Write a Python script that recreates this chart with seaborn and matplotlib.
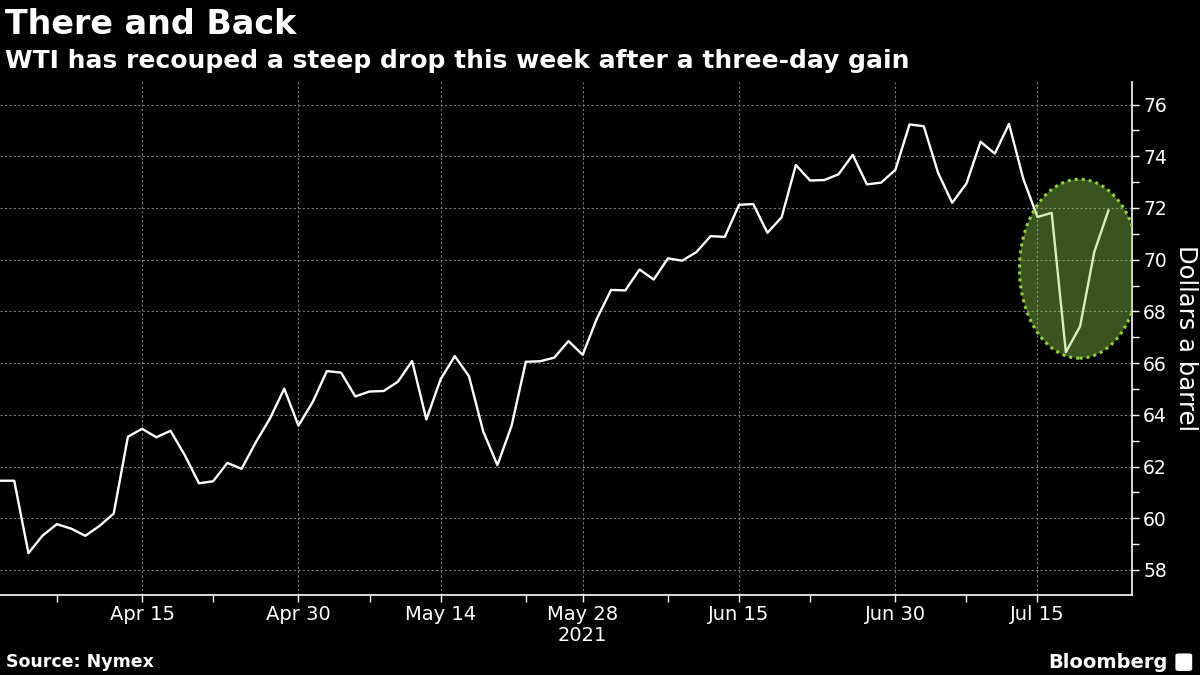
import pandas as pd
import numpy as np
import matplotlib
matplotlib.use("Agg")
import matplotlib.pyplot as plt
from matplotlib.patches import Ellipse, FancyBboxPatch
import seaborn as sns

# WTI front-month settles, trading days only (Good Friday, Memorial Day, Jul 5 closed)
holidays = ["2021-04-02", "2021-05-31", "2021-07-05"]
dates = pd.bdate_range("2021-03-31", "2021-07-22", freq="C", holidays=holidays)

prices = [
    61.45,
    61.45, 58.65, 59.33, 59.77, 59.60, 59.32, 59.70, 60.18, 63.15, 63.46,
    63.13, 63.38, 62.44, 61.35, 61.43, 62.14, 61.91, 62.94, 63.86, 65.01, 63.58,
    64.49, 65.69, 65.63, 64.71, 64.90, 64.92, 65.28, 66.08, 63.82, 65.37,
    66.27, 65.49, 63.36, 62.05, 63.58, 66.05, 66.07, 66.21, 66.85, 66.32,
    67.72, 68.83, 68.81, 69.62, 69.23, 70.05, 69.96, 70.29, 70.91, 70.88, 72.12,
    72.15, 71.04, 71.64, 73.66, 73.06, 73.08, 73.30, 74.05, 72.91, 72.98, 73.47,
    75.23, 75.16, 73.37, 72.20, 72.94, 74.56, 74.10, 75.25, 73.13, 71.65,
    71.81, 66.42, 67.42, 70.30, 71.91,
]

major_dates = ["2021-04-15", "2021-04-30", "2021-05-14", "2021-05-28",
               "2021-06-15", "2021-06-30", "2021-07-15"]
major_labels = ["Apr 15", "Apr 30", "May 14", "May 28", "Jun 15", "Jun 30", "Jul 15"]
minor_dates = ["2021-04-07", "2021-04-22", "2021-05-07", "2021-05-24",
               "2021-06-08", "2021-06-22", "2021-07-08"]
y_ticks = list(range(58, 77, 2))

df = pd.DataFrame({"date": dates, "price": prices})
df["pos"] = np.arange(len(df))
pos_of = {d: i for i, d in enumerate(df["date"].dt.strftime("%Y-%m-%d"))}

sns.set_theme(style="dark", rc={
    "figure.facecolor": "black",
    "axes.facecolor": "black",
    "axes.edgecolor": "white",
    "text.color": "white",
    "xtick.color": "white",
    "ytick.color": "white",
    "axes.labelcolor": "white",
})
plt.rcParams["font.family"] = ["DejaVu Sans"]

fig = plt.figure(figsize=(12, 6.75), dpi=100)
ax = fig.add_axes([0.0, 0.1185, 0.9433, 0.76])

sns.lineplot(data=df, x="pos", y="price", color="white", linewidth=1.7, ax=ax, zorder=3)

# highlight of the three-day rebound
ell = Ellipse((75.96, 69.65), width=8.45, height=6.92,
              facecolor=(154 / 255, 218 / 255, 82 / 255, 0.39),
              edgecolor="#8fd13f", linestyle=(0, (1, 1.3)), linewidth=2.2, zorder=4)
ax.add_patch(ell)

ax.set_xlim(0, 79.65)
ax.set_ylim(57.03, 76.87)

ax.set_xticks([pos_of[d] for d in major_dates])
ax.set_xticklabels(major_labels, fontsize=14)
ax.set_xticks([pos_of[d] for d in minor_dates], minor=True)
ax.set_xlabel("2021", fontsize=14)
ax.xaxis.set_label_coords(pos_of["2021-05-28"] / 79.65, -0.06)

ax.yaxis.tick_right()
ax.yaxis.set_label_position("right")
ax.set_yticks(y_ticks)
ax.set_yticklabels([str(v) for v in y_ticks], fontsize=13.5)
ax.set_yticks(list(range(59, 77, 2)), minor=True)
ax.set_ylabel("Dollars a barrel", fontsize=17.5, rotation=-90, labelpad=22)

ax.tick_params(axis="both", which="both", direction="out", length=5, width=1,
               bottom=True, right=True, left=False, top=False)
ax.tick_params(axis="x", which="major", pad=2)
ax.tick_params(axis="y", which="major", pad=3)

ax.grid(True, which="major", color="#777777", linestyle=(0, (2, 2)), linewidth=0.8)
for side in ["left", "top"]:
    ax.spines[side].set_visible(False)
for side in ["bottom", "right"]:
    ax.spines[side].set_color("white")
    ax.spines[side].set_linewidth(1.2)

fig.text(0.004, 0.963, "There and Back", fontsize=24, fontweight="bold", va="center", ha="left")
fig.text(0.004, 0.91, "WTI has recouped a steep drop this week after a three-day gain",
         fontsize=18, fontweight="bold", va="center", ha="left")
fig.text(0.005, 0.019, "Source: Nymex", fontsize=12.5, fontweight="bold", va="center", ha="left")
fig.text(0.973, 0.019, "Bloomberg", fontsize=14, fontweight="bold", va="center", ha="right")

# small logo box
logo = FancyBboxPatch((0.9805, 0.007), 0.012, 0.024, boxstyle="round,pad=0.001,rounding_size=0.003",
                      transform=fig.transFigure, facecolor="white", edgecolor="none")
fig.patches.append(logo)

fig.savefig("out.png", dpi=100, facecolor="black")
